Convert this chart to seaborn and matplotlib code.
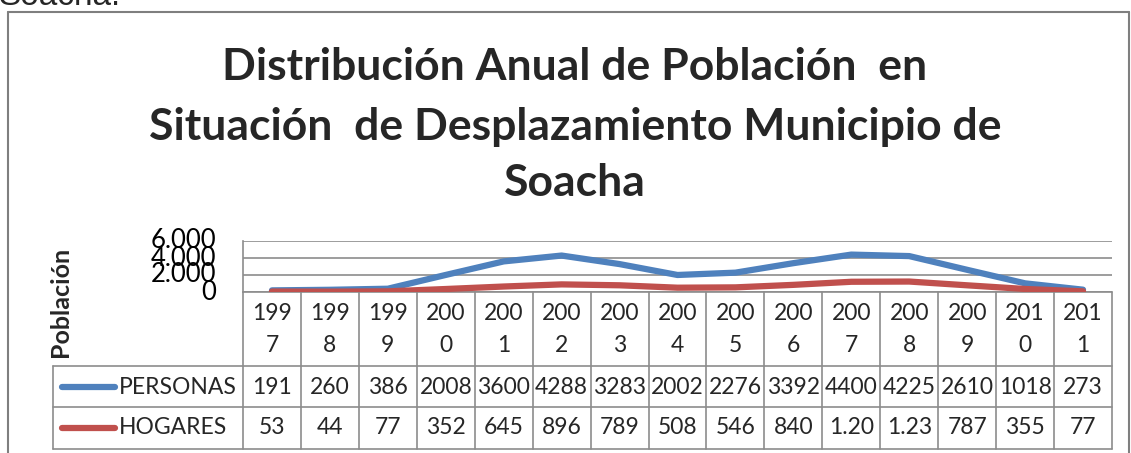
import matplotlib
matplotlib.use('Agg')
import matplotlib.pyplot as plt
import seaborn as sns
import pandas as pd

# Data
years = ['1997', '1998', '1999', '2000', '2001', '2002', '2003', '2004',
         '2005', '2006', '2007', '2008', '2009', '2010', '2011']
personas = [191, 260, 386, 2008, 3600, 4288, 3283, 2002, 2276, 3392, 4400, 4225, 2610, 1018, 273]
hogares = [53, 44, 77, 352, 645, 896, 789, 508, 546, 840, 1203, 1230, 787, 355, 77]
hogares_text = ['53', '44', '77', '352', '645', '896', '789', '508', '546', '840',
                '1.20', '1.23', '787', '355', '77']
yticks = [0, 2000, 4000, 6000]
ytick_labels = ['0', '2.000', '4.000', '6.000']

blue = '#4F81BD'
red = '#C0504D'
grid_c = '#8C8C8C'
font = 'Lato'

sns.set_style("white")
plt.rcParams['font.family'] = [font, 'DejaVu Sans']

W, H = 1131, 453
fig = plt.figure(figsize=(W / 100, H / 100), dpi=100)

# pixel helper axes over whole figure
bg = fig.add_axes([0, 0, 1, 1])
bg.set_xlim(0, W)
bg.set_ylim(H, 0)
bg.axis('off')

# plot area in pixels
x0, x1 = 243, 1112
y_top, y_zero = 241, 292
ax = fig.add_axes([x0 / W, 1 - y_zero / H, (x1 - x0) / W, (y_zero - y_top) / H])

df = pd.DataFrame({'idx': range(len(years)), 'PERSONAS': personas, 'HOGARES': hogares})
sns.lineplot(data=df, x='idx', y='PERSONAS', ax=ax, color=blue, linewidth=4.5,
             solid_capstyle='round')
sns.lineplot(data=df, x='idx', y='HOGARES', ax=ax, color=red, linewidth=4.5,
             solid_capstyle='round')
ax.set_xlim(-0.5, len(years) - 0.5)
ax.set_ylim(0, 6000)
ax.set_yticks(yticks)
ax.set_yticklabels([])
ax.set_xticks([])
ax.set_xlabel('')
ax.set_ylabel('')
for v in yticks:
    ax.axhline(v, color=grid_c, linewidth=1.2, zorder=0)
for s in ['top', 'right', 'bottom']:
    ax.spines[s].set_visible(False)
ax.spines['left'].set_color(grid_c)
ax.spines['left'].set_linewidth(1.2)
ax.patch.set_alpha(0)

# y tick labels (overlapping, as in the reference)
for v, lab in zip(yticks, ytick_labels):
    py = y_zero - (y_zero - y_top) * v / 6000
    bg.text(216, py, lab, ha='right', va='center', fontsize=18.5, color='black')

bg.text(60, 302, 'Población', rotation=90, ha='center', va='center',
        fontsize=18, fontweight='bold')

# title
title_fs = 32
bg.text(575, 67, 'Distribución Anual de Población  en', ha='center', va='center',
        fontsize=title_fs, fontweight='bold')
bg.text(575, 127, 'Situación  de Desplazamiento Municipio de', ha='center', va='center',
        fontsize=title_fs, fontweight='bold')
bg.text(575, 183, 'Soacha', ha='center', va='center', fontsize=title_fs, fontweight='bold')

# page text above the frame
bg.text(-2, 5, 'Soacha.', ha='left', va='baseline', fontsize=24,
        family=['Liberation Sans', 'DejaVu Sans'])

# outer frame
bg.plot([8, 8], [12, H], color='#7F7F7F', linewidth=1.5)
bg.plot([8, 1129], [12, 12], color='#7F7F7F', linewidth=1.5)
bg.plot([1129, 1129], [12, H], color='#7F7F7F', linewidth=1.5)

# data table
n = len(years)
cw = (x1 - x0) / n
r_hdr, r_p, r_h = 366, 407, 449
leg_x = 53
lw = 1.2
# horizontal lines
bg.plot([x0, x1], [y_zero, y_zero], color=grid_c, linewidth=lw)
for ry in [r_hdr, r_p, r_h]:
    bg.plot([leg_x, x1], [ry, ry], color=grid_c, linewidth=lw)
# vertical lines
for i in range(n + 1):
    bg.plot([x0 + i * cw] * 2, [y_zero, r_h], color=grid_c, linewidth=lw)
bg.plot([leg_x, leg_x], [r_hdr, r_h], color=grid_c, linewidth=lw)

fs = 16.5
for i, yr in enumerate(years):
    cx = x0 + (i + 0.5) * cw
    bg.text(cx, 313, yr[:3], ha='center', va='center', fontsize=fs)
    bg.text(cx, 346, yr[3:], ha='center', va='center', fontsize=fs)
    bg.text(cx, 387, str(personas[i]), ha='center', va='center', fontsize=fs)
    bg.text(cx, 428, hogares_text[i], ha='center', va='center', fontsize=fs)

# legend keys inside the table
for ry, name, c in [(387, 'PERSONAS', blue), (428, 'HOGARES', red)]:
    bg.plot([62, 115], [ry, ry], color=c, linewidth=4.5, solid_capstyle='round')
    bg.text(119, ry, name, ha='left', va='center', fontsize=fs)

plt.savefig('out.png', dpi=100)
